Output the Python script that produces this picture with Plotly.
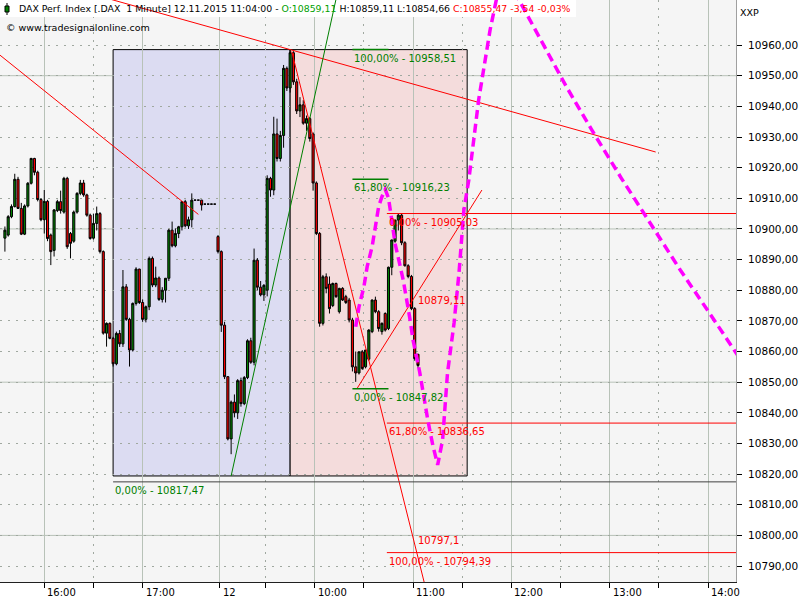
import plotly.graph_objects as go

FONT = "DejaVu Sans"

# ---------------- data ----------------
# 2-minute candles. Day 11.11.2015 starts 15:36, day 12.11.2015 starts 09:01
d11_first = "15:36"
d12_first = "09:01"
bar_step = 2

d11_open = [10897, 10898, 10904, 10907.3, 10916.2, 10906.7, 10898.3, 10907.5, 10914.9, 10923, 10918.5, 10909.6,
            10903, 10909, 10898, 10893, 10906, 10908.9, 10905.5, 10916.5, 10898.5, 10896, 10905.5, 10911.6,
            10915, 10911.1, 10904.5, 10897, 10901.8, 10905, 10892.6, 10866, 10869.2, 10864.3, 10856, 10865.9,
            10862.5, 10881.1, 10870.5, 10860.5, 10875.7, 10886.9, 10876, 10870.5, 10874.6, 10890.4, 10881.7, 10884,
            10877, 10880, 10883.9, 10899.6, 10894.5, 10898.5, 10900.7, 10908.9, 10901, 10903, 10909.4, 10909.4,
            10909.4, 10908.1, 10908.1, 10908.1, 10908.1]
d11_high = [10900.8, 10904.5, 10908, 10918, 10917, 10908.5, 10908, 10915.3, 10923.2, 10923.2, 10919, 10910,
            10912.7, 10909.5, 10898.5, 10906.5, 10909.5, 10912.5, 10917, 10917, 10899, 10906, 10912, 10916,
            10916, 10911.5, 10905, 10905, 10907.3, 10905.5, 10893, 10869.5, 10869.5, 10864.8, 10866.5, 10867,
            10886.6, 10882, 10871, 10876, 10887.5, 10887, 10877, 10875, 10891, 10891, 10887.7, 10884.5,
            10881, 10884, 10900, 10902.4, 10900.2, 10901, 10909, 10909.5, 10904, 10911.6, 10909.4, 10909.4,
            10909.5, 10908.1, 10908.1, 10908.1, 10908.1]
d11_low = [10892.6, 10897.5, 10903.5, 10907, 10906.5, 10898, 10898, 10907, 10914.5, 10917.5, 10909, 10902.5,
           10898.5, 10896, 10888.2, 10891, 10905.5, 10905, 10905, 10893.5, 10890.4, 10895.5, 10905, 10911,
           10910.5, 10904, 10896.5, 10896.5, 10899.5, 10892, 10865.5, 10861.6, 10864, 10855.1, 10855.5, 10861.5,
           10861.5, 10870, 10855.1, 10860, 10875, 10875.5, 10869.7, 10869.5, 10873.5, 10881, 10881, 10876.5,
           10876, 10876, 10883, 10894, 10894, 10897, 10899.5, 10900.5, 10900, 10900.5, 10909.4, 10909.4,
           10906, 10908.1, 10908.1, 10908.1, 10908.1]
d11_close = [10899.6, 10904, 10907.3, 10916.2, 10906.7, 10898.3, 10907.5, 10914.9, 10923, 10918.5, 10909.6, 10903,
             10909, 10896.9, 10892.6, 10906.2, 10908.9, 10906, 10916.5, 10894.2, 10895.3, 10905.5, 10911.6, 10915,
             10911.1, 10904.5, 10896.9, 10901.8, 10905, 10892.6, 10866, 10869.2, 10864.3, 10856, 10865.9, 10862.5,
             10881.1, 10870.5, 10860.5, 10875.7, 10886.9, 10876, 10870.5, 10874.6, 10890.4, 10881.7, 10884, 10877,
             10880, 10883.9, 10899.6, 10894.5, 10898.5, 10900.7, 10908.9, 10901, 10903, 10909.4, 10909.4, 10909.4,
             10907.8, 10908.1, 10908.1, 10908.1, 10908.1]

d12_open = [10897.5, 10892.6, 10868.6, 10851.8, 10831.5, 10843.5, 10840, 10850.5, 10843, 10851.5, 10863.5, 10856.5,
            10889.8, 10881, 10878.5, 10880, 10916.5, 10912.7, 10931, 10923, 10930.5, 10952.4, 10946, 10957.5,
            10948, 10938.5, 10940.5, 10934.5, 10936, 10931, 10915, 10898.5, 10869.2, 10884.4, 10882, 10875,
            10882.2, 10873, 10880.6, 10877.9, 10876.8, 10870.3, 10855, 10853, 10859.9, 10855, 10857.5, 10866.5,
            10876.8, 10873, 10866.5, 10872.4, 10867.5, 10887.5, 10896, 10902.9, 10904.5, 10895.5, 10888, 10884.5,
            10874, 10859.11]
d12_high = [10898, 10893, 10869.7, 10852, 10844, 10846, 10851, 10851.5, 10852, 10864, 10864.5, 10893.6,
            10890.5, 10883, 10882, 10917.5, 10917, 10936.6, 10936, 10932, 10953.5, 10953, 10958.51, 10958,
            10949, 10943, 10942, 10937, 10936.5, 10931.5, 10915.5, 10899, 10885, 10885.5, 10884.5, 10882.5,
            10882.5, 10880.8, 10881, 10878.5, 10877.5, 10871, 10860, 10860, 10860.5, 10860.5, 10867.3, 10877,
            10877.9, 10873.5, 10869.5, 10872.8, 10887.7, 10896.5, 10903, 10905.03, 10905, 10896, 10888.5, 10885,
            10874.5, 10859.11]
d12_low = [10892, 10866.4, 10851, 10831, 10826.5, 10838.5, 10838, 10842, 10842.5, 10851, 10856, 10855.5,
           10880, 10878, 10876.5, 10878, 10910.5, 10911, 10922, 10922, 10926.5, 10945, 10944.5, 10947,
           10937.5, 10936.5, 10934, 10932, 10928.5, 10912.5, 10898, 10868.1, 10868.5, 10879, 10872.4, 10874.5,
           10877.5, 10872.4, 10876.5, 10875.5, 10869.5, 10853.5, 10850.1, 10852.5, 10854, 10854.5, 10857, 10866,
           10872.5, 10866.5, 10865.5, 10866.5, 10867, 10884.9, 10895.5, 10899.5, 10894.7, 10887.7, 10883.9, 10873.5,
           10857, 10854.66]
d12_close = [10892.6, 10868.6, 10851.8, 10831.5, 10843.5, 10840, 10850.5, 10843, 10851.5, 10863.5, 10856.5, 10889.8,
             10881, 10878.5, 10881.6, 10916.5, 10912.7, 10931, 10923, 10930.5, 10952.4, 10946, 10957.5, 10948,
             10938.5, 10940.5, 10934.5, 10936, 10929.5, 10915, 10898.5, 10869.2, 10884.4, 10880.6, 10874, 10882.2,
             10877.9, 10880.6, 10876.8, 10876, 10870.3, 10855, 10853, 10859.9, 10854.5, 10860.5, 10867, 10876.8,
             10873, 10867.5, 10869.2, 10867, 10887.5, 10896.4, 10902.9, 10904.5, 10895.5, 10888, 10884.5, 10874,
             10857.7, 10855.47]

# time axis labels
major_tick_times = [(11, "16:00"), (11, "17:00"), (12, "09:02"), (12, "10:00"), (12, "11:00"),
                    (12, "12:00"), (12, "13:00"), (12, "14:00")]
major_tick_labels = ["16:00", "17:00", "12", "10:00", "11:00", "12:00", "13:00", "14:00"]
minor_tick_times = [(11, "16:30"), (12, "09:30"), (12, "10:30"), (12, "11:30"), (12, "12:30"), (12, "13:30")]
x_view = [(11, "15:33"), (12, "14:17")]

price_ticks = list(range(10790, 10961, 10))
price_grid_solid = [10800, 10850, 10900, 10950]
y_view = [10784.8, 10974.7]

# drawing tools (time, price)
box_times = [(11, "16:42"), (12, "09:45"), (12, "11:33")]
box_prices = [10819.4, 10958.51]
trend_red_a = [((11, "15:33"), 10956.7), ((11, "17:34"), 10904.75)]
trend_red_b = [((11, "16:30"), 10976.5), ((12, "13:28"), 10925.1)]
trend_green = [((12, "09:09"), 10819.4), ((12, "10:13"), 10975.0)]
trend_red_c = [((12, "09:46"), 10957.9), ((12, "11:10"), 10777.8)]
trend_red_d = [((12, "10:26"), 10848.1), ((12, "11:42"), 10912.7)]

fib_green_levels = ["100,00%", "61,80%", "0,00%"]
fib_green_prices = [10958.51, 10916.23, 10847.82]
fib_green_span = [(12, "10:23"), (12, "10:45")]
fib_red_levels = ["0,00%", "61,80%", "100,00%"]
fib_red_prices = [10905.03, 10836.65, 10794.39]
fib_red_start = (12, "10:44")
fib_base_level = "0,00%"
fib_base_price = 10817.47
fib_base_start = (11, "16:42")
trend_value_labels = ["10879,11", "10797,1"]
trend_value_prices = [10876.8, 10798.5]
trend_value_time = (12, "11:02")

# cycle projection (magenta), traced points
cyc_times = [(12, "10:25"), (12, "10:27"), (12, "10:30"), (12, "10:32"), (12, "10:35"), (12, "10:37"),
             (12, "10:39"), (12, "10:41"), (12, "10:43"), (12, "10:45"), (12, "10:47"), (12, "10:49"),
             (12, "10:54"), (12, "10:58"), (12, "11:00"), (12, "11:04"), (12, "11:09"), (12, "11:12"),
             (12, "11:15"), (12, "11:18"), (12, "11:21"), (12, "11:25"), (12, "11:28"), (12, "11:31"),
             (12, "11:34"), (12, "11:40"), (12, "11:47"), (12, "11:52"), (12, "11:58"),
             (12, "12:03"), (12, "12:18"), (12, "12:33"), (12, "12:49"), (12, "13:07"), (12, "13:25"),
             (12, "13:43"), (12, "14:02"), (12, "14:18"), (12, "14:21")]
cyc_prices = [10868.1, 10874.6, 10881.1, 10887.7, 10894.2, 10900.7, 10907.3, 10910.5, 10912.9, 10910.1,
              10902.9, 10895.3, 10883.3, 10870.9, 10863.7, 10853.4, 10837.6, 10829.5, 10823.0, 10831.1,
              10853.0, 10869.3, 10885.6, 10906.2, 10916.0, 10942.1, 10965.0, 10977.9, 10995.0,
              10976.3, 10961.6, 10946.9, 10932.3, 10916.6, 10901.6, 10886.6, 10871.6, 10858.8, 10856.5]


# ---------------- helpers ----------------
def sx(t):
    day, hhmm = t
    h, m = map(int, hhmm.split(":"))
    mins = h * 60 + m
    if day == 11:
        return mins - 16 * 60
    return 105 + mins - 9 * 60


def series_x(day, first, n):
    x0 = sx((day, first))
    return [x0 + i * bar_step for i in range(n)]


def fmt(p):
    return f"{p:.2f}".replace(".", ",")


W, H = 800, 600
ML, MR, MT, MB = 0, 64, 0, 18
PW, PH = W - ML - MR, H - MT - MB


def px_x(px):
    return px / PW


def px_y(py):
    return 1 - py / PH


GREEN = "#008000"
RED = "#ff0000"

x_all = series_x(11, d11_first, len(d11_open)) + series_x(12, d12_first, len(d12_open))

fig = go.Figure()
fig.add_trace(go.Candlestick(
    x=x_all,
    open=d11_open + d12_open, high=d11_high + d12_high,
    low=d11_low + d12_low, close=d11_close + d12_close,
    increasing=dict(line=dict(color="black", width=1), fillcolor=GREEN),
    decreasing=dict(line=dict(color="black", width=1), fillcolor=RED),
    whiskerwidth=0, showlegend=False, hoverinfo="skip",
))

xr = [sx(x_view[0]), sx(x_view[1])]
shapes = []
# boxes
shapes.append(dict(type="rect", xref="x", yref="y", x0=sx(box_times[0]), x1=sx(box_times[1]),
                   y0=box_prices[0], y1=box_prices[1], fillcolor="#dcdcf2",
                   line=dict(color="black", width=1), layer="below"))
shapes.append(dict(type="rect", xref="x", yref="y", x0=sx(box_times[1]), x1=sx(box_times[2]),
                   y0=box_prices[0], y1=box_prices[1], fillcolor="#f4dcdc",
                   line=dict(color="black", width=1), layer="below"))
for gp in price_grid_solid:
    shapes.append(dict(type="line", xref="paper", yref="y", x0=0, x1=1, y0=gp, y1=gp,
                       line=dict(color="#b8c2b8", width=1), layer="below"))

# header box (drawn before the tools so the tools pass over it)
shapes.append(dict(type="rect", xref="paper", yref="paper", x0=0, x1=px_x(576), y0=px_y(17), y1=1,
                   fillcolor="white", line=dict(width=0), layer="above"))

for (t0, p0), (t1, p1) in [trend_red_a, trend_red_b, trend_red_c, trend_red_d]:
    shapes.append(dict(type="line", xref="x", yref="y", x0=sx(t0), y0=p0, x1=sx(t1), y1=p1,
                       line=dict(color=RED, width=1)))
(t0, p0), (t1, p1) = trend_green
shapes.append(dict(type="line", xref="x", yref="y", x0=sx(t0), y0=p0, x1=sx(t1), y1=p1,
                   line=dict(color=GREEN, width=1)))

for p in fib_green_prices:
    shapes.append(dict(type="line", xref="x", yref="y", x0=sx(fib_green_span[0]), x1=sx(fib_green_span[1]),
                       y0=p, y1=p, line=dict(color=GREEN, width=1.5)))
for p in fib_red_prices:
    shapes.append(dict(type="line", xref="x", yref="y", x0=sx(fib_red_start), x1=xr[1],
                       y0=p, y1=p, line=dict(color=RED, width=1)))
shapes.append(dict(type="line", xref="x", yref="y", x0=sx(fib_base_start), x1=xr[1],
                   y0=fib_base_price, y1=fib_base_price, line=dict(color="#404040", width=1)))

# magenta cycle projection
cyc_path = "M " + " L ".join(f"{sx(t)},{p}" for t, p in zip(cyc_times, cyc_prices))
shapes.append(dict(type="path", xref="x", yref="y", path=cyc_path,
                   line=dict(color="#ff00ff", width=3.5, dash="9px,5px")))

# header icon
shapes.append(dict(type="line", xref="paper", yref="paper", x0=px_x(7), x1=px_x(7), y0=px_y(15), y1=px_y(3),
                   line=dict(color="black", width=1), layer="above"))
shapes.append(dict(type="rect", xref="paper", yref="paper", x0=px_x(5), x1=px_x(9), y0=px_y(12), y1=px_y(6),
                   fillcolor=GREEN, line=dict(color="black", width=1), layer="above"))

annotations = []
lab_font = dict(family=FONT, size=10)
for lvl, p in zip(fib_green_levels, fib_green_prices):
    annotations.append(dict(x=sx(fib_green_span[0]), y=p, xref="x", yref="y", xanchor="left", yanchor="top",
                            yshift=-1, text=f"{lvl} - {fmt(p)}", showarrow=False,
                            font=dict(lab_font, color=GREEN)))
for lvl, p in zip(fib_red_levels, fib_red_prices):
    annotations.append(dict(x=sx(fib_red_start), y=p, xref="x", yref="y", xanchor="left", yanchor="top",
                            yshift=-1, text=f"{lvl} - {fmt(p)}", showarrow=False,
                            font=dict(lab_font, color=RED)))
annotations.append(dict(x=sx(fib_base_start), y=fib_base_price, xref="x", yref="y", xanchor="left",
                        yanchor="top", yshift=-1, text=f"{fib_base_level} - {fmt(fib_base_price)}",
                        showarrow=False, font=dict(lab_font, color=GREEN)))
for lab, p in zip(trend_value_labels, trend_value_prices):
    annotations.append(dict(x=sx(trend_value_time), y=p, xref="x", yref="y", xanchor="left",
                            yanchor="middle", text=lab, showarrow=False, font=dict(lab_font, color=RED)))

for t, lab in zip(major_tick_times, major_tick_labels):
    annotations.append(dict(x=sx(t), y=0, xref="x", yref="paper", xanchor="left", yanchor="top",
                            xshift=1, yshift=-3, text=lab, showarrow=False,
                            font=dict(family=FONT, size=10, color="black")))

header = ("DAX Perf. Index [.DAX  1 Minute] 12.11.2015 11:04:00 - "
          f"<span style='color:#00a000'>O:10859,11</span> H:10859,11 L:10854,66 "
          f"<span style='color:#ff0000'>C:10855,47 -3,54 -0,03%</span>")
annotations.append(dict(x=px_x(17), y=px_y(9), xref="paper", yref="paper", xanchor="left", yanchor="middle",
                        text=header, showarrow=False, font=dict(family=FONT, size=9.35, color="black")))
annotations.append(dict(x=px_x(4), y=px_y(27), xref="paper", yref="paper", xanchor="left", yanchor="middle",
                        text="© www.tradesignalonline.com", showarrow=False,
                        font=dict(family=FONT, size=9.5, color="black")))
annotations.append(dict(x=px_x(738), y=px_y(12), xref="paper", yref="paper", xanchor="left", yanchor="middle",
                        text="XXP", showarrow=False, font=dict(family=FONT, size=9.5, color="black")))

fig.update_layout(
    width=W, height=H, margin=dict(l=ML, r=MR, t=MT, b=MB),
    paper_bgcolor="white", plot_bgcolor="#f5f5f5",
    boxgap=0.1, showlegend=False,
    shapes=shapes, annotations=annotations,
    xaxis=dict(type="linear", range=xr, rangeslider=dict(visible=False),
               tickvals=[sx(t) for t in major_tick_times], showticklabels=False,
               ticks="outside", ticklen=5, tickcolor="black",
               showgrid=True, gridcolor="#b8c2b8", gridwidth=1, zeroline=False,
               minor=dict(tickvals=[sx(t) for t in minor_tick_times], ticks="outside", ticklen=5,
                          tickcolor="black", showgrid=True, gridcolor="#a0a8a0", griddash="2px,6px"),
               showline=True, linecolor="#202020", linewidth=1, mirror=False),
    yaxis=dict(side="right", range=y_view, tickvals=price_ticks, ticktext=[fmt(p) for p in price_ticks],
               ticks="outside", ticklen=5, tickcolor="black", ticklabelstandoff=4,
               tickfont=dict(family=FONT, size=10.5, color="black"),
               showgrid=True, gridcolor="#a0a8a0", griddash="2px,6px", zeroline=False,
               showline=True, linecolor="#a0a0a0", mirror=True),
)

fig.write_html("out.html", config={"displayModeBar": False},
               post_script="document.body.style.margin='0px';document.body.style.overflow='hidden';")
